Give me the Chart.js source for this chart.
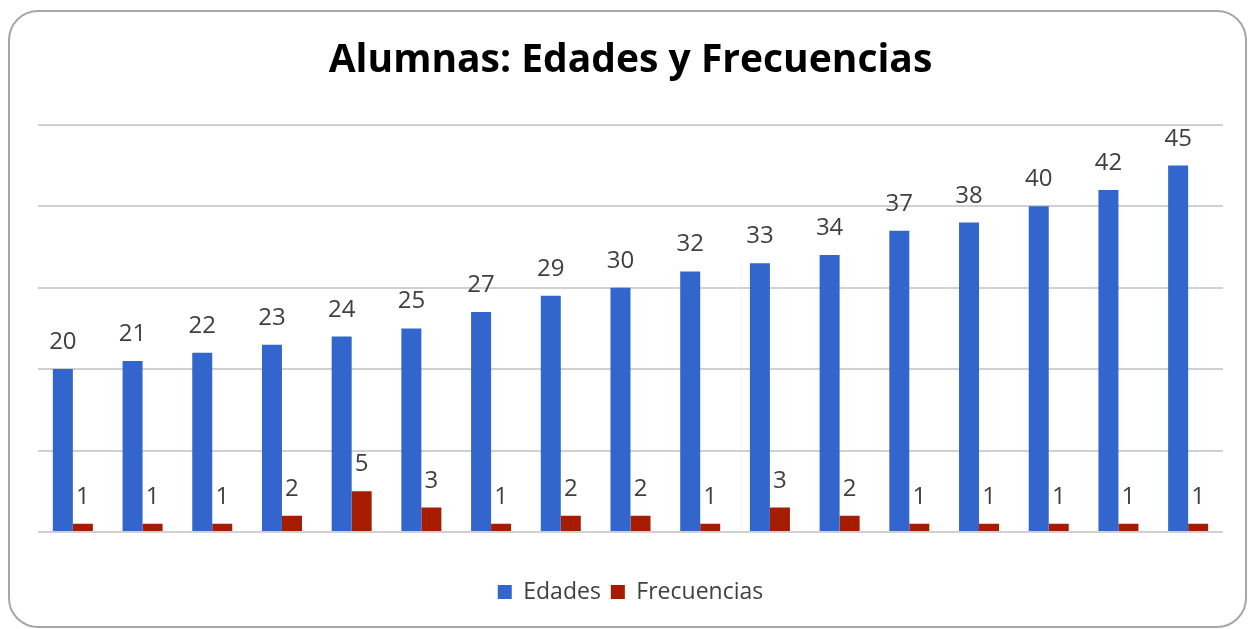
<!DOCTYPE html>
<html>
<head>
<meta charset="utf-8">
<script src="https://cdn.jsdelivr.net/npm/chart.js@4"></script>
<style>
  html, body { margin: 0; padding: 0; background: #ffffff; }
  #frame { position: absolute; left: 8px; top: 10px; width: 1235px; height: 614px;
           border: 2px solid #a6a6a6; border-radius: 30px; }
  #c { position: absolute; left: 0; top: 0; }
</style>
</head>
<body>
<div id="frame"></div>
<canvas id="c" width="1252" height="629"></canvas>
<script>
const categories = ['1','2','3','4','5','6','7','8','9','10','11','12','13','14','15','16','17'];
const edades = [20, 21, 22, 23, 24, 25, 27, 29, 30, 32, 33, 34, 37, 38, 40, 42, 45];
const frecuencias = [1, 1, 1, 2, 5, 3, 1, 2, 2, 1, 3, 2, 1, 1, 1, 1, 1];
const seriesNames = ['Edades', 'Frecuencias'];
const chartTitle = 'Alumnas: Edades y Frecuencias';

const valueLabels = {
  id: 'valueLabels',
  afterDatasetsDraw(chart) {
    const ctx = chart.ctx;
    ctx.save();
    ctx.font = '24px "Open Sans"';
    ctx.fillStyle = '#404040';
    ctx.textAlign = 'center';
    ctx.textBaseline = 'alphabetic';
    chart.data.datasets.forEach((ds, i) => {
      const meta = chart.getDatasetMeta(i);
      meta.data.forEach((bar, j) => {
        ctx.fillText(String(ds.data[j]), bar.x, bar.y - 20);
      });
    });
    ctx.restore();
  }
};

new Chart(document.getElementById('c'), {
  type: 'bar',
  data: {
    labels: categories,
    datasets: [
      { label: seriesNames[0], data: edades, backgroundColor: '#3366cc' },
      { label: seriesNames[1], data: frecuencias, backgroundColor: '#a51c00' }
    ]
  },
  options: {
    responsive: false,
    animation: false,
    devicePixelRatio: 1,
    categoryPercentage: 0.574,
    barPercentage: 1.0,
    layout: { padding: { left: 38, right: 29, top: 0, bottom: 15.5 } },
    scales: {
      x: {
        ticks: { display: false },
        grid: { display: false },
        border: { display: false },
        afterFit: (s) => { s.height = 38.5; }
      },
      y: {
        min: 0, max: 50,
        ticks: { display: false, stepSize: 10 },
        grid: { color: '#d0d0d0', lineWidth: 2, drawTicks: false },
        border: { display: false }
      }
    },
    plugins: {
      title: {
        display: true,
        text: chartTitle,
        color: '#000000',
        font: { family: 'Open Sans', size: 39, weight: 'bold' },
        padding: { top: 37, bottom: 41 }
      },
      legend: {
        position: 'bottom',
        labels: {
          color: '#404040',
          font: { family: 'Open Sans', size: 23 },
          boxWidth: 14, boxHeight: 14, padding: 10
        }
      },
      tooltip: { enabled: false }
    }
  },
  plugins: [valueLabels]
});
</script>
</body>
</html>
